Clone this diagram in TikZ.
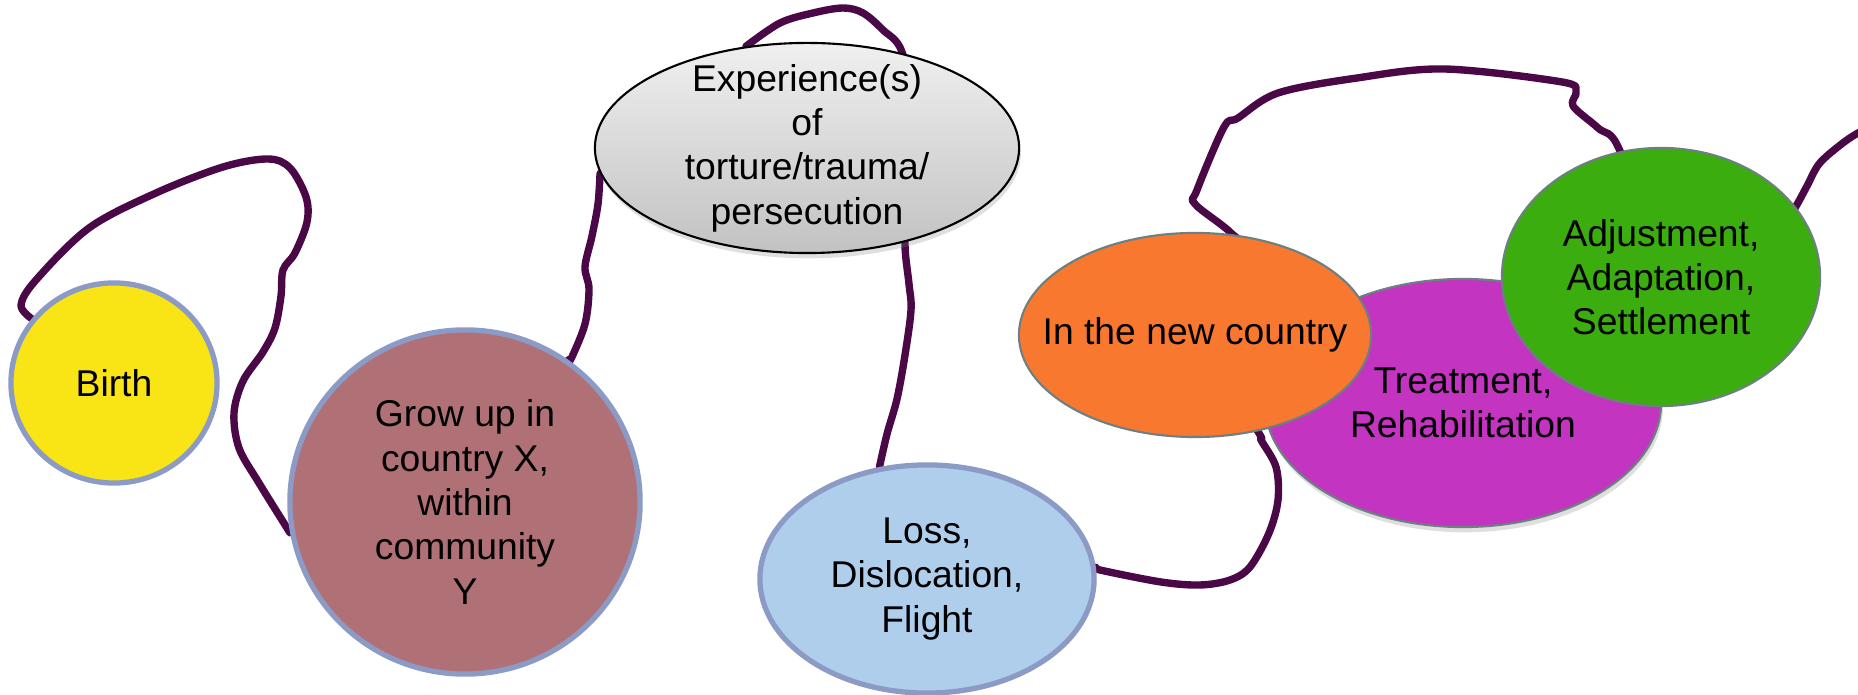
\documentclass[tikz,border=0pt]{standalone}
\usepackage{fontspec}
\setmainfont{Liberation Sans}
\usetikzlibrary{shapes.geometric,backgrounds,shadows}

\definecolor{ropepurple}{HTML}{4A0847}
\definecolor{rimblue}{HTML}{8C9BC6}
\definecolor{rimgray}{HTML}{6D7F80}
\definecolor{birthyellow}{HTML}{F9E416}
\definecolor{growbrown}{HTML}{B07176}
\definecolor{lossblue}{HTML}{AFCEEC}
\definecolor{neworange}{HTML}{F97830}
\definecolor{treatmagenta}{HTML}{C335C0}
\definecolor{adjustgreen}{HTML}{3BAD0F}

\begin{document}
\begin{tikzpicture}[x=0.01cm,y=-0.01cm,
  stage/.style={ellipse, inner sep=-0.6cm, align=center, text=black,
    font=\fontsize{10.6}{12.6}\selectfont},
  bluerim/.style={stage, draw=rimblue, line width=1.5pt},
  grayrim/.style={stage, draw=rimgray, line width=0.6pt},
  soft/.style={drop shadow={shadow xshift=0.5pt, shadow yshift=-1.5pt, opacity=0.25}},
  rope/.style={draw=ropepurple, line width=2.1pt, line cap=round, line join=round}]
  \useasboundingbox (0,0) rectangle (1858,695);

  % Birth and growing up
  \node[bluerim, fill=birthyellow, minimum width=2.06cm, minimum height=2.0cm]
    (birth) at (114,383) {Birth};
  \node[bluerim, fill=growbrown, minimum width=3.5cm, minimum height=3.44cm]
    (grow) at (465,502) {Grow up in\\country X,\\within\\community\\Y};

  % Torture
  \node[stage, draw=black, line width=0.6pt, top color=black!6, bottom color=black!24,
    soft, minimum width=4.24cm, minimum height=2.1cm]
    (trauma) at (807,148) {Experience(s)\\of\\torture/trauma/\\persecution};

  % Flight
  \node[bluerim, fill=lossblue, minimum width=3.34cm, minimum height=2.28cm]
    (loss) at (927,579) {Loss,\\Dislocation,\\Flight};

  % New country
  \node[grayrim, fill=treatmagenta, soft, minimum width=3.96cm, minimum height=2.48cm]
    (treat) at (1463,403) {Treatment,\\Rehabilitation};
  \node[grayrim, fill=neworange, minimum width=3.52cm, minimum height=2.04cm]
    (newland) at (1195,335) {In the new country};
  \node[grayrim, fill=adjustgreen, minimum width=3.18cm, minimum height=2.58cm]
    (settle) at (1661,277) {Adjustment,\\Adaptation,\\Settlement};

  \coordinate (tail) at (1890,117);

  % the rope behind the stages
  \begin{scope}[on background layer]
    \draw[rope] plot[smooth, tension=0.55] coordinates {(birth.142) (21,305) (36,280)
      (89,228) (156,193) (223,167) (268,159) (290,168) (306,197) (307,222) (295,253)
      (283,270) (281,296) (275,328) (263,352) (243,381) (234,413) (239,448) (259,483)
      (grow.190)};
    \draw[rope] plot[smooth, tension=0.55] coordinates {(grow.54) (571,359) (585,324)
      (589,289) (585,267) (592,236) (598,204) (trauma.187)};
    \draw[rope] plot[smooth, tension=0.55] coordinates {(trauma.121) (780,23)
      (813,13) (843,8) (863,13) (883,30) (902,52) (915,120) (908,200)
      (905,245) (909,284) (911,310) (905,355) (897,399) (887,434) (loss.113)};
    \draw[rope] plot[smooth, tension=0.55] coordinates {(loss.4) (1100,570) (1161,582)
      (1200,585) (1230,580) (1250,567) (1269,533) (1278,500) (1276,467) (1261,440)
      (1257,430) (newland.center)};
    \draw[rope] plot[smooth, tension=0.55] coordinates {(newland.center) (1255,265)
      (1231,233) (1195,204) (1197,190) (1224,127) (1238,118) (1278,93) (1357,78)
      (1444,69) (1562,82) (1576,92) (1573,106) (1598,128) (1620,151) (settle.center)};
    \draw[rope] plot[smooth, tension=0.55] coordinates {(settle.center) (1770,250)
      (1795,208) (1807,186) (1819,164) (1839,146) (1858,133) (tail)};
  \end{scope}
\end{tikzpicture}
\end{document}
